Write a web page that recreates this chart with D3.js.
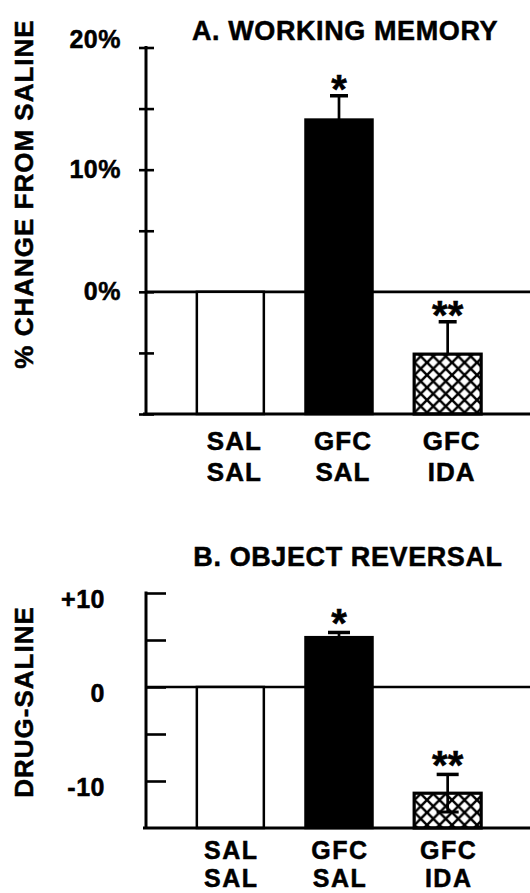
<!DOCTYPE html>
<html>
<head>
<meta charset="utf-8">
<script src="https://cdn.jsdelivr.net/npm/d3@7"></script>
<style>
  html, body { margin: 0; padding: 0; background: #fff; }
  svg { display: block; }
  text { font-family: "Liberation Sans", Arial, Helvetica, sans-serif; font-weight: bold; fill: #000; stroke: #000; stroke-width: 0.5; }
</style>
</head>
<body>
<div id="chart"></div>
<script>
// Two stacked bar panels: working memory (%) and object reversal (drug - saline)

const groupTop = ["SAL", "GFC", "GFC"];
const groupBottom = ["SAL", "SAL", "IDA"];
const groupFill = ["white", "black", "hatch"];
const stars = ["", "*", "**"];

const memoryValues = [0, 14.1, -5.1];
const memoryErrors = [0, 1.95, 2.65];
const memoryTicks = [-10, -5, 0, 5, 10, 15, 20];
const memoryTickLabels = [[20, "20%"], [10, "10%"], [0, "0%"]];

const reversalValues = [0, 5.3, -11.3];
const reversalErrors = [0, 0.5, 2.0];
const reversalTicks = [-10, -5, 0, 5, 10];
const reversalTickLabels = [[10, "+10"], [0, "0"], [-10, "-10"]];

const W = 530, H = 893;
const axisX = 146;
const barW = 67;

const svg = d3.select("#chart").append("svg")
    .attr("width", W).attr("height", H);

const defs = svg.append("defs");
const hatch = defs.append("pattern")
    .attr("id", "xhatch")
    .attr("patternUnits", "userSpaceOnUse")
    .attr("width", 12.5).attr("height", 12.5)
    .attr("x", 2).attr("y", 0);
hatch.append("rect").attr("width", 12.5).attr("height", 12.5).attr("fill", "#fff");
hatch.append("path")
    .attr("d", "M0,0L12.5,12.5M12.5,0L0,12.5")
    .attr("stroke", "#000").attr("stroke-width", 2.5);

const x = d3.scalePoint()
    .domain(d3.range(groupTop.length))
    .range([176, 502])
    .padding(0.5);

function drawPanel(p) {
    const g = svg.append("g");
    const y = d3.scaleLinear().domain(p.domain).range(p.range);
    const y0 = y(p.domain[0]);

    // title
    g.append("text")
        .attr("x", p.titleX).attr("y", p.titleY)
        .attr("text-anchor", "middle")
        .attr("font-size", 27).attr("letter-spacing", 0.6)
        .text(p.title);

    // y axis label
    g.append("text")
        .attr("transform", `translate(33,${p.labelY}) rotate(-90)`)
        .attr("text-anchor", "middle")
        .attr("font-size", 26).attr("letter-spacing", 1)
        .text(p.yLabel);

    // zero line
    g.append("line")
        .attr("x1", axisX).attr("x2", W)
        .attr("y1", y(0)).attr("y2", y(0))
        .attr("stroke", "#000").attr("stroke-width", 2.6);

    // bars (drawn from the bottom of the axis)
    g.selectAll("rect.bar")
        .data(p.values)
        .join("rect")
        .attr("class", "bar")
        .attr("x", (d, i) => x(i) - barW / 2)
        .attr("width", barW)
        .attr("y", d => y(d))
        .attr("height", d => y0 - y(d))
        .attr("fill", (d, i) => groupFill[i] === "hatch" ? "url(#xhatch)" : groupFill[i])
        .attr("stroke", "#000")
        .attr("stroke-width", (d, i) => groupFill[i] === "hatch" ? 3.2 : 2.5);

    // error bars
    const err = p.values.map((v, i) => ({ i, v, e: p.errors[i] })).filter(d => d.e > 0);
    g.selectAll("line.err")
        .data(err)
        .join("line")
        .attr("class", "err")
        .attr("x1", d => x(d.i)).attr("x2", d => x(d.i))
        .attr("y1", d => y(p.twoSided ? d.v - d.e : d.v))
        .attr("y2", d => y(d.v + d.e))
        .attr("stroke", "#000").attr("stroke-width", 2.7);
    g.selectAll("line.cap")
        .data(err)
        .join("line")
        .attr("class", "cap")
        .attr("x1", d => x(d.i) - p.capW / 2).attr("x2", d => x(d.i) + p.capW / 2)
        .attr("y1", d => y(d.v + d.e)).attr("y2", d => y(d.v + d.e))
        .attr("stroke", "#000").attr("stroke-width", 3.5);
    if (p.twoSided) {
        g.selectAll("line.capLow")
            .data(err.filter(d => groupFill[d.i] === "hatch"))
            .join("line")
            .attr("class", "capLow")
            .attr("x1", d => x(d.i) - p.capW / 2).attr("x2", d => x(d.i) + p.capW / 2)
            .attr("y1", d => y(d.v - d.e)).attr("y2", d => y(d.v - d.e))
            .attr("stroke", "#000").attr("stroke-width", 3);
    }

    // significance stars
    g.selectAll("text.star")
        .data(err)
        .join("text")
        .attr("class", "star")
        .attr("x", d => x(d.i))
        .attr("y", d => y(d.v + d.e) + p.starDy)
        .attr("text-anchor", "middle")
        .attr("font-size", 40)
        .text(d => stars[d.i]);

    // y axis
    const axis = p.inside
        ? d3.axisRight(y).tickValues(p.ticks).tickSize(20).tickSizeOuter(0).tickFormat("")
        : d3.axisLeft(y).tickValues(p.ticks).tickSize(7).tickSizeOuter(0).tickFormat("");
    const ax = g.append("g").attr("transform", `translate(${axisX},0)`).call(axis);
    ax.select(".domain").remove();
    ax.selectAll(".tick line").attr("stroke", "#000").attr("stroke-width", 2.6);
    if (!p.inside) ax.selectAll(".tick line").attr("x1", 8);
    g.append("line")
        .attr("x1", axisX).attr("x2", axisX)
        .attr("y1", y(p.domain[1]) - 1.5).attr("y2", y0)
        .attr("stroke", "#000").attr("stroke-width", 3);

    // bottom line
    g.append("line")
        .attr("x1", axisX - 3).attr("x2", W)
        .attr("y1", y0).attr("y2", y0)
        .attr("stroke", "#000").attr("stroke-width", 3);

    // tick labels
    g.selectAll("text.tl")
        .data(p.tickLabels)
        .join("text")
        .attr("class", "tl")
        .attr("x", p.tickLabelX)
        .attr("y", d => y(d[0]) + (d[0] === p.domain[1] ? p.topLabelDy : p.labelDy))
        .attr("text-anchor", "end")
        .attr("font-size", 25).attr("letter-spacing", 0.5)
        .text(d => d[1]);

    // category labels
    const cat = g.selectAll("g.cat")
        .data(groupTop)
        .join("g")
        .attr("class", "cat");
    cat.append("text")
        .attr("x", (d, i) => x(i) + p.catDx)
        .attr("y", y0 + p.catDy)
        .attr("text-anchor", "middle")
        .attr("font-size", p.catSize).attr("letter-spacing", p.catSpacing)
        .text(d => d);
    cat.append("text")
        .attr("x", (d, i) => x(i) + p.catDx)
        .attr("y", y0 + p.catDy + p.catGap)
        .attr("text-anchor", "middle")
        .attr("font-size", p.catSize).attr("letter-spacing", p.catSpacing)
        .text((d, i) => groupBottom[i]);
}

drawPanel({
    title: "A. WORKING MEMORY", titleX: 345, titleY: 40,
    yLabel: "% CHANGE FROM SALINE", labelY: 194,
    domain: [-10, 20], range: [414, 47.5],
    values: memoryValues, errors: memoryErrors,
    ticks: memoryTicks, tickLabels: memoryTickLabels,
    inside: false, twoSided: false, capW: 18,
    tickLabelX: 121, labelDy: 8, topLabelDy: 0,
    starDy: 7, catDx: 4, catDy: 36, catGap: 31, catSize: 26, catSpacing: 1
});

drawPanel({
    title: "B. OBJECT REVERSAL", titleX: 348, titleY: 566,
    yLabel: "DRUG-SALINE", labelY: 702,
    domain: [-15, 10], range: [828, 593],
    values: reversalValues, errors: reversalErrors,
    ticks: reversalTicks, tickLabels: reversalTickLabels,
    inside: true, twoSided: true, capW: 22,
    tickLabelX: 105, labelDy: 15, topLabelDy: 15,
    starDy: 5, catDx: 1, catDy: 31, catGap: 28, catSize: 25, catSpacing: 1.5
});
</script>
</body>
</html>
